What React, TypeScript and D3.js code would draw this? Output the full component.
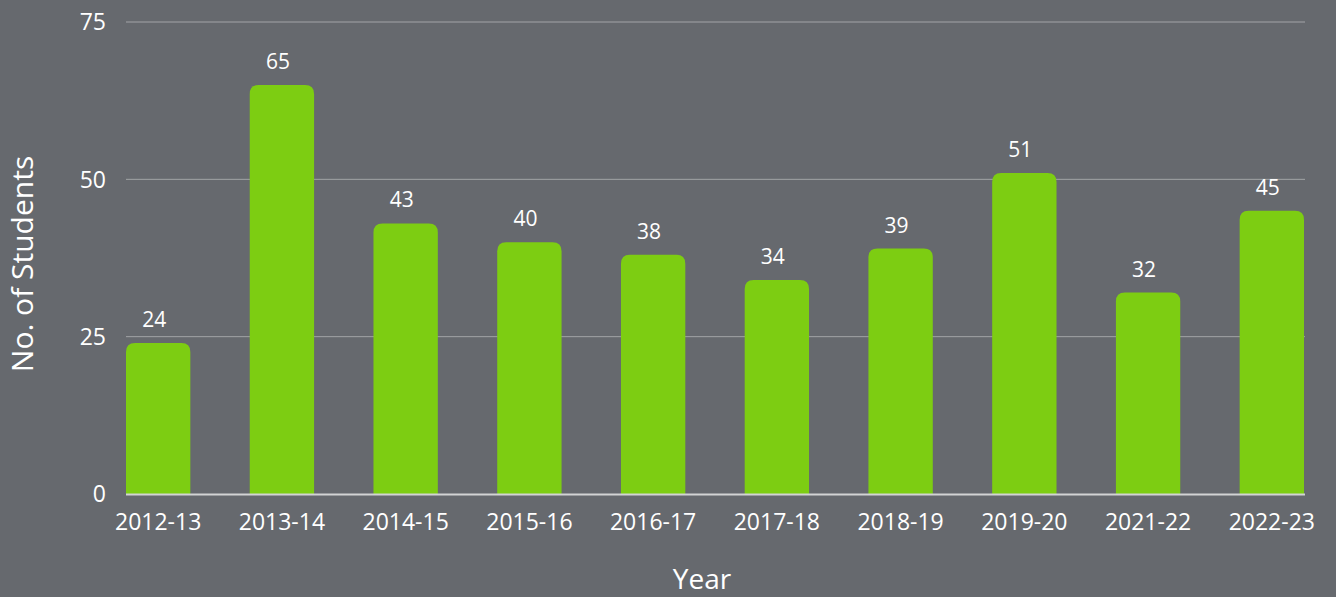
import React from "react";
import * as d3 from "d3";

const categories = ["2012-13", "2013-14", "2014-15", "2015-16", "2016-17", "2017-18", "2018-19", "2019-20", "2021-22", "2022-23"];
const students = [24, 65, 43, 40, 38, 34, 39, 51, 32, 45];
const yTicks = [0, 25, 50, 75];

const W = 1336;
const H = 597;
const M = { left: 126, right: 32, top: 22, bottom: 103 };
const BG = "#66696e";
const BAR = "#7dcd12";
const FONT = "'Open Sans', 'Noto Sans', sans-serif";

function roundTopRect(x: number, y: number, w: number, h: number, r: number) {
  const rr = Math.min(r, h, w / 2);
  return `M${x},${y + h}V${y + rr}Q${x},${y} ${x + rr},${y}H${x + w - rr}Q${x + w},${y} ${x + w},${y + rr}V${y + h}Z`;
}

export default function App() {
  const x = d3.scaleBand<string>().domain(categories).range([M.left, W - M.right]).paddingInner(0.48).paddingOuter(0);
  const y = d3.scaleLinear().domain([0, 75]).range([H - M.bottom, M.top]);
  const bw = x.bandwidth();
  return (
    <svg width={W} height={H} style={{ position: "absolute", left: 0, top: 0, display: "block", background: BG }}>
      <rect x={0} y={0} width={W} height={H} fill={BG} />
      {yTicks.filter((t) => t !== 0).map((t) => (
        <line key={t} x1={M.left} x2={W - M.right + 1} y1={y(t)} y2={y(t)} stroke="#a2a4a7" strokeWidth={1} />
      ))}
      {yTicks.map((t) => (
        <text key={"l" + t} x={106} y={y(t)} dy="0.36em" textAnchor="end" fill="#ffffff" fontFamily={FONT} fontSize={23}>
          {t}
        </text>
      ))}
      {categories.map((c, i) => {
        const bx = x(c) as number;
        const by = y(students[i]);
        return (
          <g key={c}>
            <path d={roundTopRect(bx, by, bw, y(0) - by, 9)} fill={BAR} />
            <text x={bx + bw / 2 - 4} y={by - 16} textAnchor="middle" fill="#ffffff" fontFamily={FONT} fontSize={21}>
              {students[i]}
            </text>
            <text x={bx + bw / 2} y={530} textAnchor="middle" fill="#ffffff" fontFamily={FONT} fontSize={23}>
              {c}
            </text>
          </g>
        );
      })}
      <line x1={M.left} x2={W - M.right + 1} y1={y(0) + 0.5} y2={y(0) + 0.5} stroke="#d2d3d4" strokeWidth={2} />
      <text
        transform={`translate(33,${264}) rotate(-90)`}
        textAnchor="middle"
        fill="#ffffff"
        fontFamily={FONT}
        fontSize={30}
      >
        No. of Students
      </text>
      <text x={702} y={589} textAnchor="middle" fill="#ffffff" fontFamily={FONT} fontSize={28}>
        Year
      </text>
    </svg>
  );
}
